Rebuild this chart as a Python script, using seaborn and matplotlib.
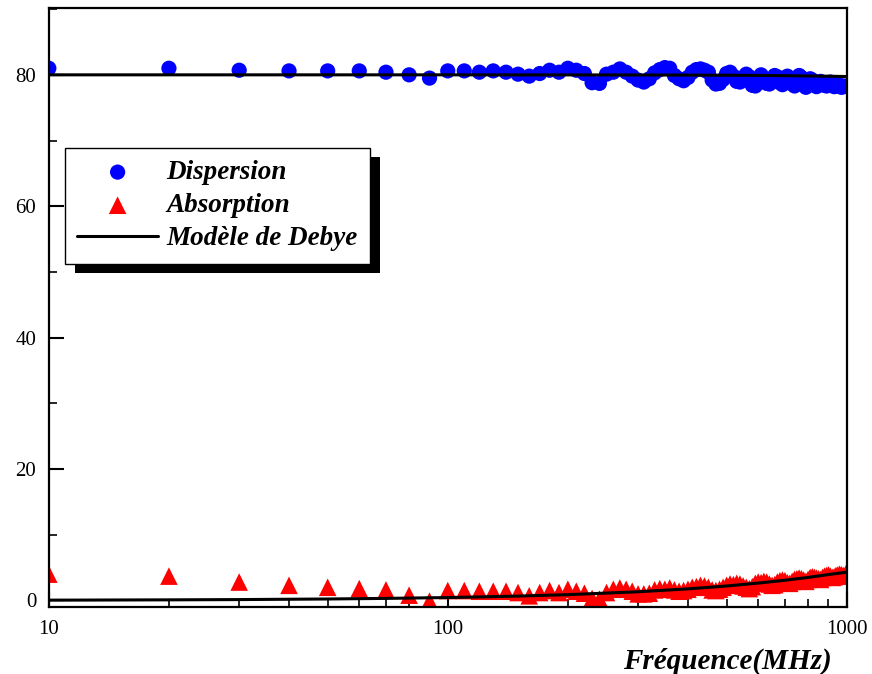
import numpy as np
import pandas as pd
import matplotlib
matplotlib.use('Agg')
import matplotlib.pyplot as plt
import seaborn as sns
from matplotlib.patches import Rectangle
from matplotlib.ticker import MultipleLocator, LogLocator, NullFormatter, FixedLocator, FixedFormatter

# ---- données ----
freq = [10, 20, 30, 40, 50, 60, 70, 80, 90,
        100, 110, 120, 130, 140, 150, 160, 170, 180, 190,
        200, 210, 220, 230, 240, 250, 260, 270, 280, 290,
        300, 310, 320, 330, 340, 350, 360, 370, 380, 390,
        400, 410, 420, 430, 440, 450, 460, 470, 480, 490,
        500, 510, 520, 530, 540, 550, 560, 570, 580, 590,
        600, 610, 620, 630, 640, 650, 660, 670, 680, 690,
        700, 710, 720, 730, 740, 750, 760, 770, 780, 790,
        800, 810, 820, 830, 840, 850, 860, 870, 880, 890,
        900, 910, 920, 930, 940, 950, 960, 970, 980, 990, 1000]

dispersion = [81.0, 81.0, 80.7, 80.6, 80.6, 80.6, 80.4, 80.0, 79.5,
              80.6, 80.6, 80.4, 80.6, 80.4, 80.1, 79.8, 80.2, 80.7, 80.4,
              81.0, 80.7, 80.2, 78.8, 78.7, 80.1, 80.4, 80.9, 80.4, 79.8,
              79.2, 78.9, 79.4, 80.3, 80.8, 81.1, 81.0, 79.9, 79.4, 79.1,
              79.6, 80.4, 80.8, 80.9, 80.7, 80.4, 79.2, 78.6, 78.7, 79.3,
              80.2, 80.4, 79.8, 79.0, 78.9, 79.6, 80.1, 79.7, 78.4, 78.3,
              79.2, 80.0, 79.5, 78.7, 78.6, 79.4, 79.9, 79.7, 78.8, 78.5,
              79.2, 79.8, 79.4, 78.6, 78.3, 79.1, 79.9, 79.6, 78.7, 78.1,
              78.5, 79.4, 79.2, 78.6, 78.2, 78.5, 79.0, 78.8, 78.4, 78.3,
              78.6, 78.9, 78.5, 78.2, 78.3, 78.6, 78.4, 78.1, 78.2, 78.3, 78.2]

absorption = [4.0, 3.7, 2.8, 2.3, 2.0, 1.8, 1.6, 0.8, -0.1,
              1.5, 1.5, 1.4, 1.4, 1.4, 1.2, 0.7, 1.2, 1.5, 1.2,
              1.7, 1.4, 1.1, 0.3, 0.2, 1.2, 1.7, 1.9, 1.7, 1.4,
              1.0, 1.0, 1.1, 1.6, 1.8, 1.7, 1.9, 1.6, 1.4, 1.5,
              1.7, 2.0, 2.1, 2.3, 2.2, 2.0, 1.6, 1.5, 1.7, 2.0,
              2.3, 2.5, 2.4, 2.6, 2.5, 2.2, 2.0, 1.8, 2.1, 2.6,
              2.8, 2.7, 2.9, 2.8, 2.5, 2.3, 2.4, 2.8, 3.0, 3.1,
              3.0, 2.7, 2.6, 2.9, 3.2, 3.3, 3.4, 3.3, 3.1, 2.9,
              3.2, 3.5, 3.6, 3.5, 3.4, 3.3, 3.2, 3.5, 3.7, 3.8,
              3.9, 3.7, 3.5, 3.6, 3.8, 3.9, 4.0, 3.9, 3.8, 3.7, 4.3]

model_freq = [10, 15, 20, 30, 50, 70, 100, 150, 200, 300, 400, 500,
              600, 700, 800, 900, 1000]
model_eps1 = [80.0, 80.0, 80.0, 80.0, 80.0, 80.0, 80.0, 79.99, 79.99, 79.98,
              79.96, 79.94, 79.91, 79.87, 79.83, 79.79, 79.74]
model_eps2 = [0.04, 0.07, 0.09, 0.13, 0.22, 0.31, 0.44, 0.66, 0.88, 1.32,
              1.76, 2.2, 2.64, 3.07, 3.5, 3.94, 4.3]

df = pd.DataFrame({'freq': freq, 'disp': dispersion, 'abs': absorption})
model = pd.DataFrame({'freq': model_freq, 'e1': model_eps1, 'e2': model_eps2})

# ---- style ----
sns.set_style("white")
plt.rcParams['font.family'] = ['Liberation Serif', 'DejaVu Serif']
plt.rcParams['text.color'] = 'black'
plt.rcParams['xtick.color'] = 'black'
plt.rcParams['ytick.color'] = 'black'
plt.rcParams['axes.labelcolor'] = 'black'

fig = plt.figure(figsize=(8.72, 6.74), dpi=100)
ax = fig.add_axes([0.056, 0.0994, 0.915, 0.889])

sns.scatterplot(data=df, x='freq', y='disp', ax=ax, marker='o', s=120,
                color='#0000ff', edgecolor='none', label='Dispersion', zorder=2)
sns.scatterplot(data=df, x='freq', y='abs', ax=ax, marker='^', s=160,
                color='#ff0000', edgecolor='none', label='Absorption', zorder=2)
sns.lineplot(data=model, x='freq', y='e1', ax=ax, color='black', lw=2.2,
             label='Modèle de Debye', zorder=3)
sns.lineplot(data=model, x='freq', y='e2', ax=ax, color='black', lw=2.2,
             zorder=3)

ax.set_xscale('log')
ax.set_xlim(10, 1000)
ax.set_ylim(-1, 90.2)

ax.yaxis.set_major_locator(FixedLocator([0, 20, 40, 60, 80]))
ax.yaxis.set_minor_locator(MultipleLocator(10))
ax.xaxis.set_major_locator(FixedLocator([10, 100, 1000]))
ax.xaxis.set_major_formatter(FixedFormatter(['10', '100', '1000']))
ax.xaxis.set_minor_locator(LogLocator(base=10, subs=np.arange(2, 10)))
ax.xaxis.set_minor_formatter(NullFormatter())

ax.tick_params(axis='both', which='major', direction='in', length=11, width=1.5,
               labelsize=15, pad=9)
ax.tick_params(axis='both', which='minor', direction='in', length=6, width=1.2)
ax.tick_params(axis='x', which='both', bottom=True)
ax.tick_params(axis='y', which='both', left=True)

for sp in ax.spines.values():
    sp.set_color('black')
    sp.set_linewidth(1.6)

ax.set_ylabel('')
ax.set_xlabel('Fréquence(MHz)', fontsize=21, fontweight='bold', fontstyle='italic')
ax.xaxis.set_label_coords(0.851, -0.068)

leg = ax.legend(loc='upper left', bbox_to_anchor=(0.02, 0.766), borderaxespad=0,
                fancybox=False, edgecolor='black', framealpha=1,
                prop={'size': 19.5, 'weight': 'bold', 'style': 'italic'},
                handlelength=3.0, handletextpad=0.3, borderpad=0.45,
                labelspacing=0.3, markerscale=1.0)
leg.get_frame().set_linewidth(1.0)
leg.set_zorder(10)

# ombre noire décalée derrière la légende
fig.canvas.draw()
bb = leg.get_window_extent()
W, H = fig.get_size_inches() * fig.dpi
shadow = Rectangle(((bb.x0 + 10) / W, (bb.y0 - 9) / H), bb.width / W, bb.height / H,
                   transform=fig.transFigure, facecolor='black', edgecolor='none',
                   zorder=9)
ax.add_artist(shadow)
shadow.set_clip_on(False)

fig.savefig('out.png', dpi=100)
